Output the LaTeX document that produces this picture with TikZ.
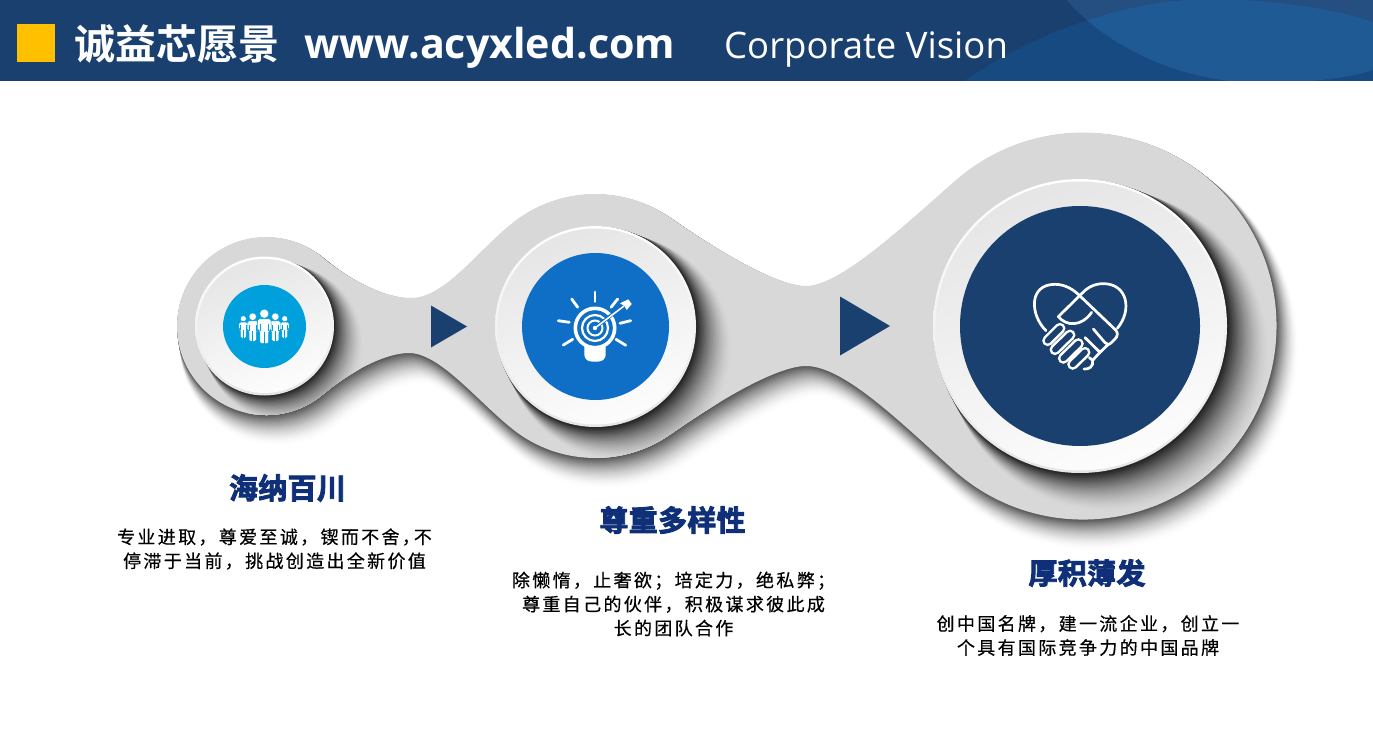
\documentclass[tikz,border=0pt]{standalone}
\usepackage{fontspec}
\setmainfont{Open Sans}
\newfontfamily\cjkbody{Noto Sans CJK SC}[LetterSpace=13,FakeBold=0.5]
\newfontfamily\cjktop{Noto Sans CJK SC Bold}
\newfontfamily\cjksec{Noto Sans CJK SC Bold}[FakeBold=3,LetterSpace=1]
\newfontfamily\latbold{Open Sans}[BoldFont={Open Sans Bold}]
\definecolor{navy}{HTML}{19406F}
\definecolor{waveA}{HTML}{184A82}
\definecolor{waveB}{HTML}{244F80}
\definecolor{waveC}{HTML}{1F5A94}
\definecolor{sun}{HTML}{FFC000}
\definecolor{blobg}{HTML}{D8D8D8}
\definecolor{discA}{HTML}{00A0DC}
\definecolor{discB}{HTML}{0F6FC6}
\definecolor{sectxt}{HTML}{0F2F78}
\usetikzlibrary{calc}
\tikzset{
  disc/.style={circle,inner sep=0pt,outer sep=0pt,draw=none},
  rimdisc/.style={disc,top color=white,bottom color=black!10,shading angle=0},
  facedisc/.style={disc,top color=black!10,bottom color=black!1,shading angle=20},
  sectitle/.style={inner sep=0pt,text=sectxt,font=\cjksec\fontsize{29}{31}\selectfont},
  bodytext/.style={inner sep=0pt,align=center,text=black,font=\cjkbody\fontsize{18}{24}\selectfont},
  ray/.style={draw=white,line width=2.8pt,line cap=round},
  hs/.style={draw=white,line width=2.7pt,line cap=round,line join=round},
}
\def\blobpath{(323.2,-257.8) .. controls (350,-280.3) and (385,-298) .. (411,-298)
  .. controls (445,-298) and (478,-250) .. (513.7,-222)
  arc[start angle=128,end angle=55,radius=132]
  .. controls (711.7,-246.6) and (775,-286) .. (806,-286)
  .. controls (840,-286) and (904,-225.7) .. (956.6,-179.6)
  arc[start angle=130.8,end angle=-130.8,radius=193.5]
  .. controls (904,-426) and (845,-366) .. (806,-366)
  .. controls (775,-366) and (711.7,-405.4) .. (670.7,-434.1)
  arc[start angle=-55,end angle=-128,radius=132]
  .. controls (478,-402) and (440,-353) .. (409,-353)
  .. controls (385,-353) and (350,-371.7) .. (323.2,-394.2)
  arc[start angle=-50,end angle=-310,radius=89] -- cycle}
\newcommand\ringshadow[4]{% cx cy r reach
  \foreach \i in {24,23,...,1}{
    \pgfmathsetmacro\tt{\i/24}
    \pgfmathsetmacro\kk{88*(1-\tt)^1.6}
    \pgfmathsetmacro\rr{#3+0.32*#4*\tt}
    \pgfmathsetmacro\sx{#1+0.70*#4*\tt}
    \pgfmathsetmacro\sy{-#2-0.62*#4*\tt}
    \fill[black!\kk!blobg] (\sx,\sy) circle[radius=\rr];
  }}
\newcommand\person[3]{%
  \begin{scope}[shift={(#1,-#2)},scale=#3]
    \fill[white,draw=discA,line width=.5pt] (0,0) circle[radius=4.6];
    \fill[white,draw=discA,line width=.5pt,rounded corners=1.5pt] (-6.7,-5.2) -- (6.7,-5.2) -- (6.7,-17) -- (4.4,-17) -- (4.4,-30) -- (-4.4,-30) -- (-4.4,-17) -- (-6.7,-17) -- cycle;
    \draw[discA,line width=.7pt] (-4.2,-10) -- (-4.2,-17) (4.2,-10) -- (4.2,-17) (0,-18) -- (0,-30.5);
  \end{scope}}
\begin{document}
\begin{tikzpicture}[x=1pt,y=1pt]
\useasboundingbox (0,0) rectangle (1373,-730);
\fill[white] (0,0) rectangle (1373,-730);
% header
\fill[navy] (0,0) rectangle (1373,-81);
\begin{scope}
  \clip (0,0) rectangle (1373,-81);
  \def\waveApath{(964,-81) .. controls (1040,-30) and (1130,2) .. (1215,1) .. controls (1280,0) and (1340,-10) .. (1373,-22) -- (1373,-81) -- cycle}
  \def\waveBpath{(1065,2) .. controls (1100,-40) and (1170,-81) .. (1258,-83) .. controls (1300,-84) and (1350,-78) .. (1373,-70) -- (1373,2) -- cycle}
  \fill[waveB] \waveBpath;
  \fill[waveA] \waveApath;
  \begin{scope}
    \clip \waveApath;
    \fill[waveC] \waveBpath;
  \end{scope}
\end{scope}
\fill[sun] (17,-24) rectangle (55,-62);
\node[anchor=base west,inner sep=0pt,text=white,font=\cjktop\fontsize{41}{42}\selectfont] (title) at (74,-60) {诚益芯愿景};
\node[anchor=base west,inner sep=0pt,text=white,font=\latbold\bfseries\fontsize{41.2}{44}\selectfont] (site) at (304,-59) {www.acyxled.com};
\node[anchor=base west,inner sep=0pt,text=white,font=\latbold\fontsize{36.5}{40}\selectfont] (sub) at (724,-59) {Corporate Vision};
% blob shadow
\foreach \i in {30,29,...,1}{
  \pgfmathsetmacro\tt{\i/30}
  \pgfmathsetmacro\kk{68*(1-\tt)^1.7}
  \pgfmathsetmacro\lw{18*\tt}
  \begin{scope}[shift={(13*\tt,-22*\tt)}]
    \path[draw=black!\kk!white,fill=black!\kk!white,line width=\lw pt,line join=round] \blobpath;
  \end{scope}
}
\fill[blobg] \blobpath;
\begin{scope}
  \clip \blobpath;
  \ringshadow{264.5}{326}{69}{30}
  \ringshadow{595.5}{326.5}{100.5}{36}
  \ringshadow{1080}{326}{147}{42}
\end{scope}
% rings and discs
\node[rimdisc,minimum size=139pt] (r1) at (264.5,-326) {};
\node[facedisc,minimum size=134pt] (f1) at (264.5,-326) {};
\node[disc,fill=discA,minimum size=83pt] (d1) at (264.5,-326.5) {};
\node[rimdisc,minimum size=201pt] (r2) at (595.5,-326.5) {};
\node[facedisc,minimum size=196pt] (f2) at (595.5,-326.5) {};
\node[disc,fill=discB,minimum size=147pt] (d2) at (595.5,-326.5) {};
\node[rimdisc,minimum size=294pt] (r3) at (1080,-326) {};
\node[facedisc,minimum size=289pt] (f3) at (1080,-326) {};
\node[disc,fill=navy,minimum size=240pt] (d3) at (1080,-326) {};
% arrows
\fill[navy] (431,-305.5) -- (467,-326.5) -- (431,-347.5) -- cycle;
\fill[navy] (840,-296.5) -- (890,-326) -- (840,-355.5) -- cycle;
% people icon
\person{243.3}{318.7}{.65}
\person{284.7}{318.7}{.65}
\person{252.7}{316.7}{.82}
\person{275.3}{316.7}{.82}
\person{264.3}{313.7}{1}
% bulb icon
\draw[ray] (595,-292) -- (595,-301.5);
\draw[ray] (571.7,-299) -- (577.7,-307.3);
\draw[ray] (558.3,-320.7) -- (569.3,-322.3);
\draw[ray] (563.3,-345) -- (572.7,-339.3);
\draw[ray] (616,-339.3) -- (625.7,-345.3);
\draw[ray] (620,-323.3) -- (630.7,-320.7);
\draw[ray] (611,-307.3) -- (617.7,-299);
\fill[white,rounded corners=7pt] (584.3,-338) -- (605.7,-338) -- (605.7,-361.5) -- (584.3,-361.5) -- cycle;
\fill[white] (595,-328) circle[radius=21.5];
\fill[discB] (595,-328) circle[radius=17.8];
\draw[white,line width=2.2pt] (595,-328) circle[radius=13];
\draw[white,line width=2pt] (595,-328) circle[radius=7.5];
\fill[white] (595,-328) circle[radius=2.2];
\draw[discB,line width=3.4pt] (600,-324) -- (618,-310);
\draw[white,line width=1.6pt] (595,-328) -- (624,-306);
\fill[white] (620,-303.3) -- (628.3,-299.3) -- (631.7,-304) -- (626.7,-310) -- (624.5,-306) -- cycle;
% handshake icon
\begin{scope}[shift={(1010,-265)},x=0.3333pt,y=-0.3333pt]
  \draw[hs] (108,197) .. controls (60,150) and (55,58) .. (135,58) .. controls (165,58) and (190,73) .. (210,93) -- (318,196) .. controls (325,205) and (322,215) .. (315,222) -- (305,232) .. controls (298,240) and (290,240) .. (285,233) -- (250,192);
  \draw[hs] (322,190) .. controls (368,135) and (352,56) .. (280,56) .. controls (250,56) and (230,70) .. (215,86) -- (145,155) .. controls (170,185) and (215,185) .. (245,142);
  \draw[hs] (225,218) -- (270,262) -- (248,286) -- (238,278);
  \draw[hs] (295,238) -- (270,262);
  \draw[hs] (248,286) .. controls (252,305) and (235,314) .. (222,312);
  \foreach \a/\b/\c/\d in {113/227/150/190, 135/254/180/210, 160/280/205/236, 188/298/225/262}{
    \draw[white,line width=11pt,line cap=round] (\a,\b) -- (\c,\d);
    \draw[navy,line width=5.8pt,line cap=round] (\a,\b) -- (\c,\d);
  }
\end{scope}
% texts
\node[sectitle] (t1) at (287.5,-488) {海纳百川};
\node[bodytext] (b1) at (274.5,-549) {专业进取，尊爱至诚，锲而不舍，\kern-6pt不\\停滞于当前，挑战创造出全新价值};
\node[sectitle] (t2) at (672.5,-520) {尊重多样性};
\node[bodytext] (b2) at (673.5,-604) {除懒惰，止奢欲；培定力，绝私弊；\\尊重自己的伙伴，积极谋求彼此成\\长的团队合作};
\node[sectitle] (t3) at (1087,-573) {厚积薄发};
\node[bodytext] (b3) at (1088,-635.5) {创中国名牌，建一流企业，创立一\\个具有国际竞争力的中国品牌};
\end{tikzpicture}
\end{document}
